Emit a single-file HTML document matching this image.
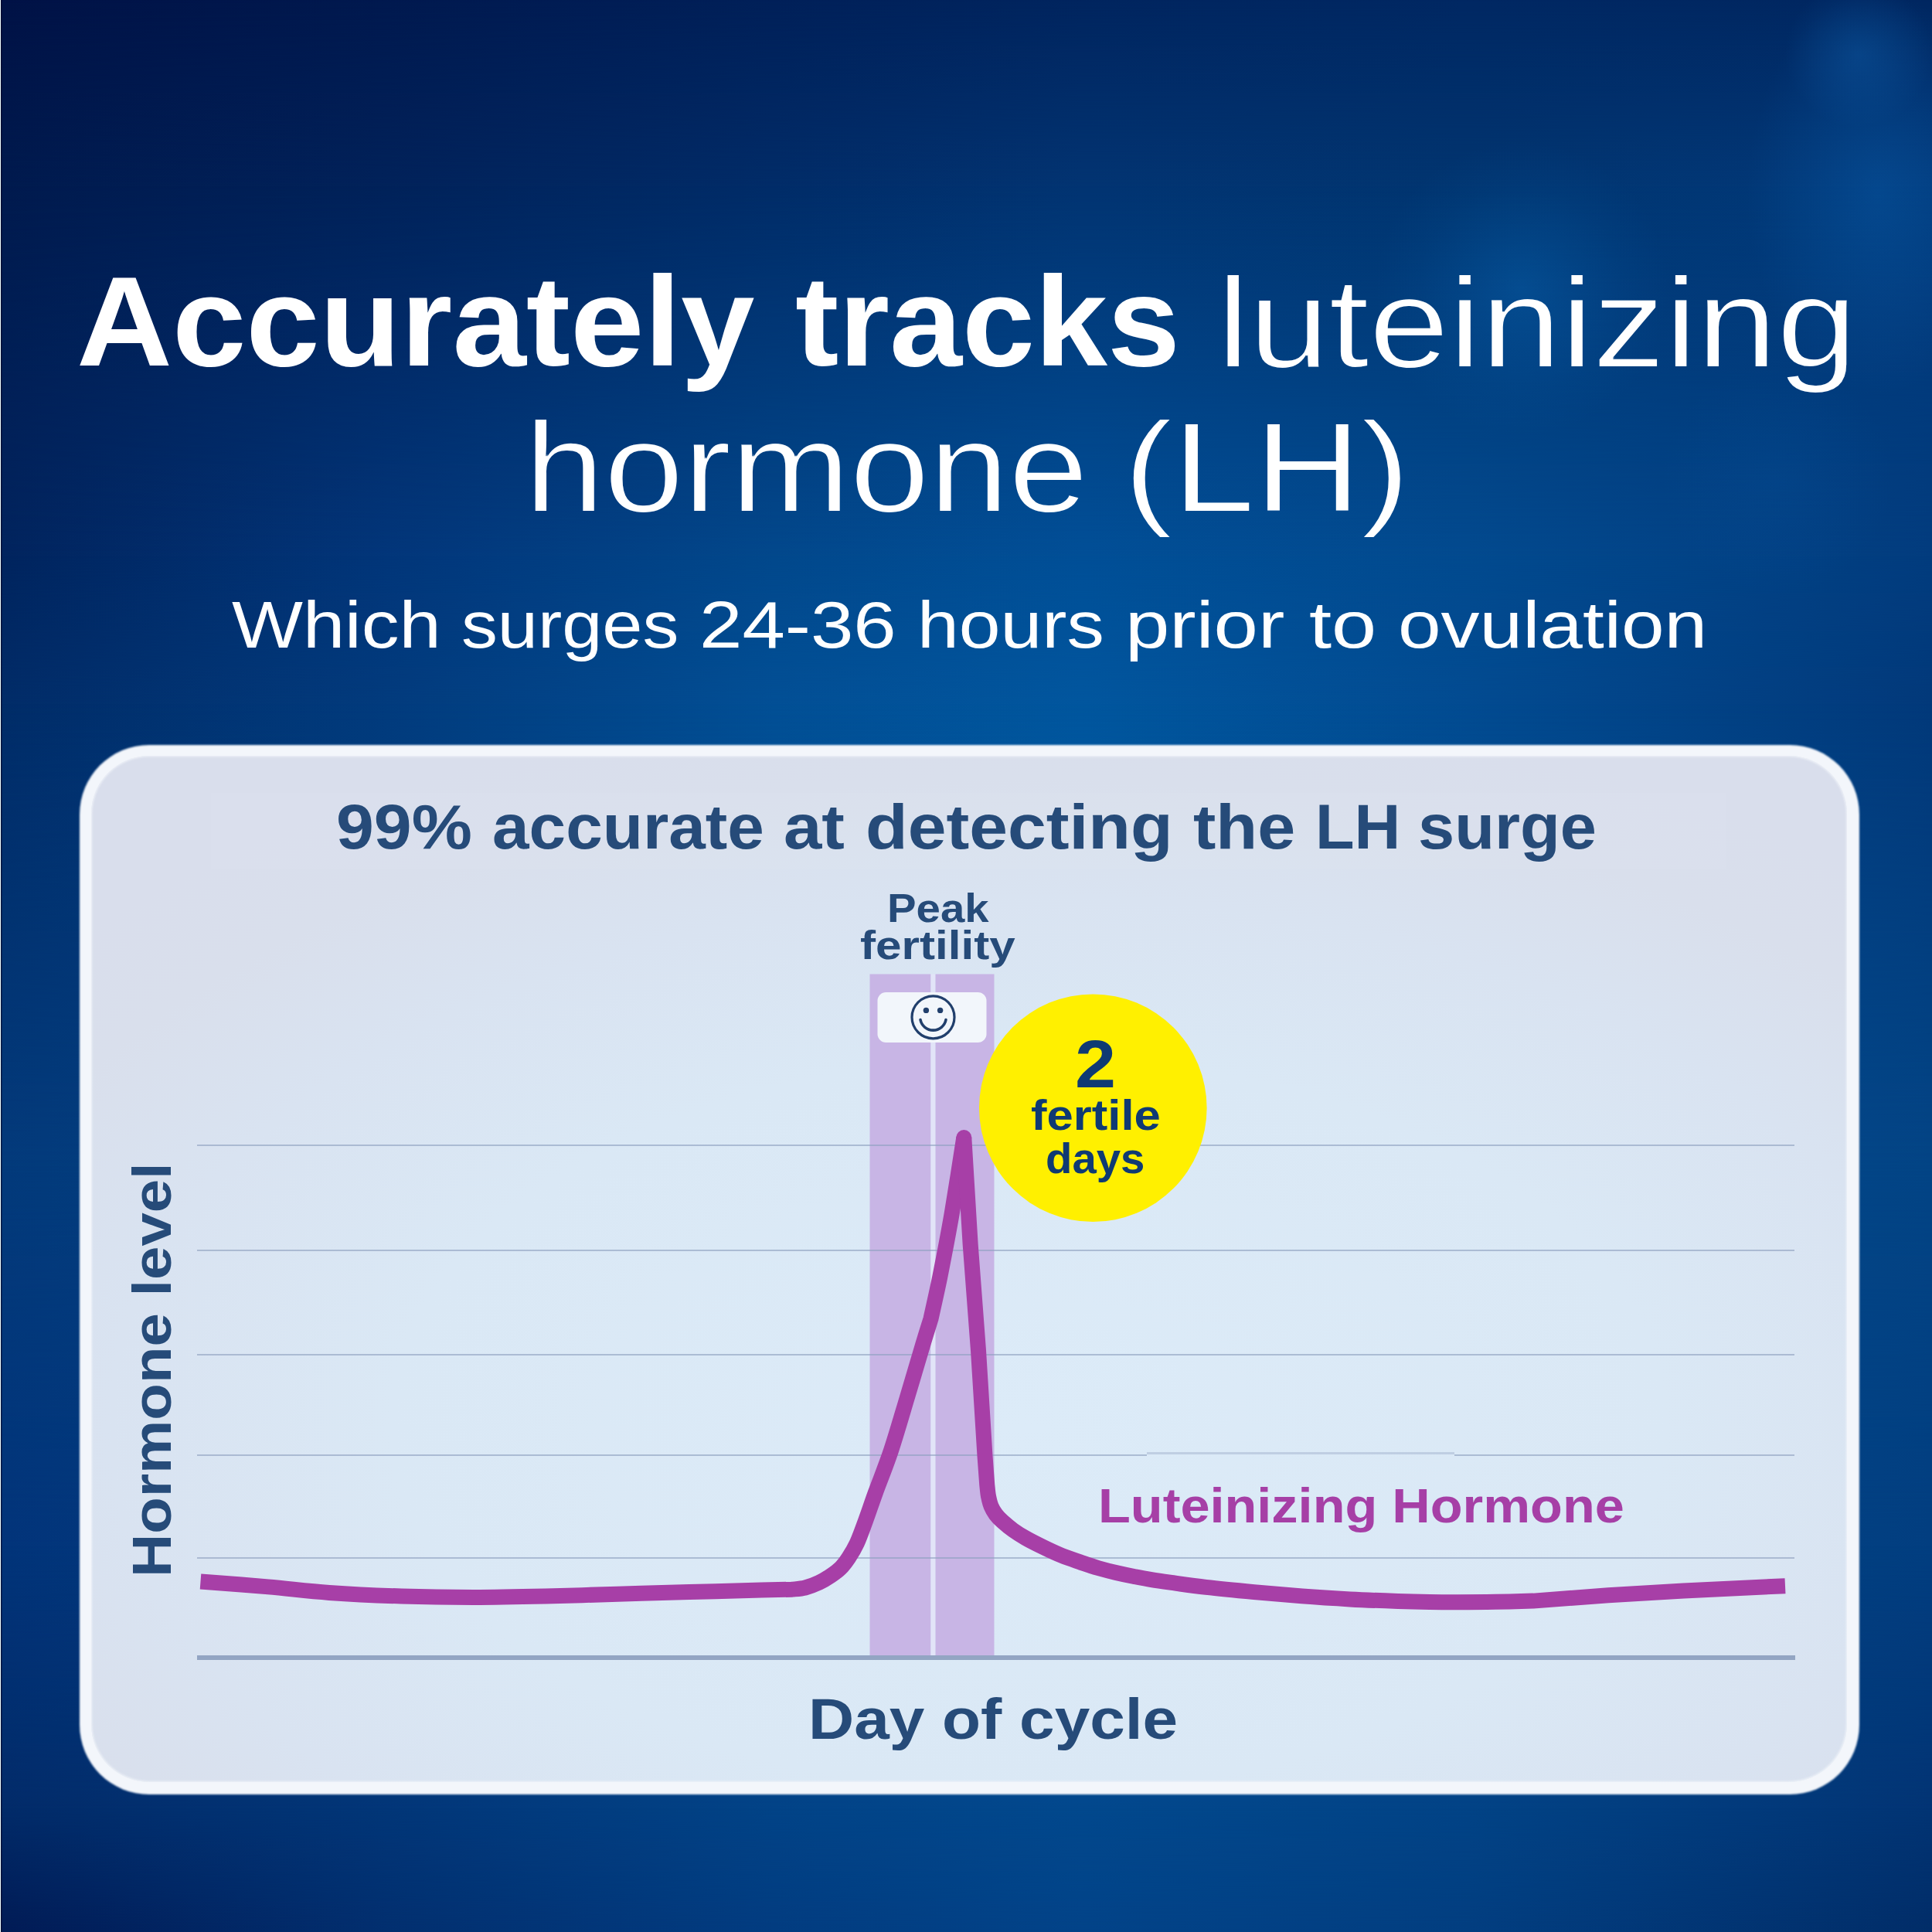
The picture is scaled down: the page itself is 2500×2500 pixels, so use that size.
<!DOCTYPE html>
<html lang="en">
<head>
<meta charset="utf-8">
<title>Accurately tracks luteinizing hormone (LH)</title>
<style>
html,body{margin:0;padding:0;}
body{width:2500px;height:2500px;overflow:hidden;position:relative;background:#01306f;font-family:"Liberation Sans",sans-serif;}
.bgl{position:absolute;left:0;top:0;width:2500px;height:2500px;}
#bokeh{position:absolute;left:0;top:0;width:2500px;height:2500px;background:
  radial-gradient(circle 190px at 1969px 373px, rgba(10,110,190,0.34), rgba(10,110,190,0.20) 35%, rgba(10,110,190,0.07) 70%, rgba(10,110,190,0) 100%),
  radial-gradient(ellipse 170px 260px at 2430px 250px, rgba(10,100,180,0.35), rgba(10,100,180,0) 100%),
  radial-gradient(circle 95px at 2405px 70px, rgba(20,110,190,0.30), rgba(20,110,190,0) 100%),
  radial-gradient(circle 150px at 2300px 620px, rgba(10,100,180,0.12), rgba(10,100,180,0) 100%);}
#edge{position:absolute;left:0;top:0;width:3px;height:2500px;background:linear-gradient(90deg,#f4ffff 0,#f4ffff 1px,rgba(0,8,40,0.75) 1px,rgba(0,8,40,0.55) 2px,rgba(0,8,40,0.15) 3px);}
#card{position:absolute;left:102.5px;top:963.5px;width:2303px;height:1358.7px;border-radius:90px;
 background:#f3f6fb;filter:blur(0.8px);}
#cardin{position:absolute;left:118px;top:978px;width:2271.5px;height:1328px;border-radius:75px;
 background:
  radial-gradient(ellipse 1650px 950px at 1212px 865px, #dcebf8 0%, #dae8f5 50%, #d9e3f1 72%, #d9dfec 88%, #d9deec 100%);box-shadow:inset 0 0 3px 1px rgba(243,246,251,0.9);}
#tbk{position:absolute;left:273px;top:1026px;width:1961px;height:99px;background:rgba(255,255,255,0.05);}
.t{position:absolute;white-space:pre;transform-origin:0 0;margin:0;padding:0;}
#chart{position:absolute;left:0;top:0;}
#t1b,#t2a,#t2b{filter:url(#thin);}
</style>
</head>
<body>
<div class="bgl" style="background:linear-gradient(90deg,#011246 0px,#01194f 500px,#012059 1000px,#01255f 1400px,#012863 1900px,#012761 2500px);"></div>
<div class="bgl" style="background:linear-gradient(90deg,#001a4e 0px,#01225a 500px,#012c68 1000px,#023472 1400px,#013570 1900px,#02397a 2500px);-webkit-mask-image:linear-gradient(180deg,rgba(0,0,0,0) 0px,#000 240px);mask-image:linear-gradient(180deg,rgba(0,0,0,0) 0px,#000 240px);"></div>
<div class="bgl" style="background:linear-gradient(90deg,#01245e 0px,#02367a 500px,#02488c 1000px,#014f97 1400px,#024a8f 1900px,#023c7e 2500px);-webkit-mask-image:linear-gradient(180deg,rgba(0,0,0,0) 240px,#000 720px);mask-image:linear-gradient(180deg,rgba(0,0,0,0) 240px,#000 720px);"></div>
<div class="bgl" style="background:linear-gradient(90deg,#012c68 0px,#023b7d 500px,#024f95 1000px,#01569e 1400px,#024b91 1900px,#02397a 2500px);-webkit-mask-image:linear-gradient(180deg,rgba(0,0,0,0) 720px,#000 910px);mask-image:linear-gradient(180deg,rgba(0,0,0,0) 720px,#000 910px);"></div>
<div class="bgl" style="background:linear-gradient(90deg,#033a7b 0px,#034384 500px,#024d92 1000px,#01559c 1400px,#034c90 1900px,#034485 2500px);-webkit-mask-image:linear-gradient(180deg,rgba(0,0,0,0) 910px,#000 1500px);mask-image:linear-gradient(180deg,rgba(0,0,0,0) 910px,#000 1500px);"></div>
<div class="bgl" style="background:linear-gradient(90deg,#02347a 0px,#033d80 500px,#02478b 1000px,#024e94 1400px,#024789 1900px,#023e80 2500px);-webkit-mask-image:linear-gradient(180deg,rgba(0,0,0,0) 1500px,#000 2000px);mask-image:linear-gradient(180deg,rgba(0,0,0,0) 1500px,#000 2000px);"></div>
<div class="bgl" style="background:linear-gradient(90deg,#022b69 0px,#023678 500px,#024387 1000px,#02488d 1400px,#024386 1900px,#023474 2500px);-webkit-mask-image:linear-gradient(180deg,rgba(0,0,0,0) 2000px,#000 2340px);mask-image:linear-gradient(180deg,rgba(0,0,0,0) 2000px,#000 2340px);"></div>
<div class="bgl" style="background:linear-gradient(90deg,#011b55 0px,#022f6f 500px,#023c80 1000px,#024388 1400px,#023e80 1900px,#012d68 2500px);-webkit-mask-image:linear-gradient(180deg,rgba(0,0,0,0) 2340px,#000 2500px);mask-image:linear-gradient(180deg,rgba(0,0,0,0) 2340px,#000 2500px);"></div>
<div id="bokeh"></div>
<div id="edge"></div>
<div id="card"></div>
<div id="cardin"></div>
<div id="tbk"></div>
<svg id="chart" width="2500" height="2500" viewBox="0 0 2500 2500">
  <defs><filter id="thin" x="-2%" y="-10%" width="104%" height="120%"><feMorphology operator="erode" radius="1"/></filter></defs>
  <!-- fertile bands -->
  <rect x="1125.5" y="1260.5" width="79" height="884.5" fill="#c8b5e5"/>
  <rect x="1204.5" y="1260.5" width="6" height="884.5" fill="#e2e4f8"/>
  <rect x="1210.5" y="1260.5" width="76" height="884.5" fill="#c8b5e5"/>
  <!-- grid lines -->
  <g stroke="#8fa1c0" stroke-width="1.8" opacity="0.62">
    <line x1="255" y1="1482" x2="2322" y2="1482"/>
    <line x1="255" y1="1618" x2="2322" y2="1618"/>
    <line x1="255" y1="1753" x2="2322" y2="1753"/>
    <line x1="255" y1="1883" x2="1484" y2="1883"/>
    <line x1="1484" y1="1880.5" x2="1882" y2="1880.5" stroke-width="3" opacity="0.6"/>
    <line x1="1882" y1="1883" x2="2322" y2="1883"/>
    <line x1="255" y1="2016" x2="2322" y2="2016"/>
  </g>
  <rect x="255" y="2142" width="2068" height="6" fill="#93a5c3"/>
  <!-- pill -->
  <rect x="1135.5" y="1284" width="141" height="65" rx="11" ry="11" fill="#f2f6fb"/>
  <g fill="none" stroke="#213f6c" stroke-width="3.2" stroke-linecap="round">
    <circle cx="1207.5" cy="1316.3" r="27.5"/>
    <path d="M 1191 1319.5 A 16.8 16.8 0 0 0 1224 1319.5" stroke-width="3.6"/>
  </g>
  <circle cx="1198.4" cy="1307.4" r="3.7" fill="#213f6c"/>
  <circle cx="1216.6" cy="1307.4" r="3.7" fill="#213f6c"/>
  <!-- LH curve -->
  <path id="curve" fill="none" stroke="#a73fa7" stroke-width="20" stroke-linejoin="round" stroke-linecap="butt"
   d="M 259.5 2046.5 C 274.1 2047.7 319.2 2051.0 347.0 2053.4 C 374.8 2055.8 397.2 2058.9 426.0 2060.9 C 454.8 2062.9 488.4 2064.5 519.5 2065.5 C 550.6 2066.5 581.7 2066.9 612.7 2066.9 C 643.8 2066.9 674.8 2066.2 705.8 2065.5 C 736.8 2064.8 768.0 2063.6 799.0 2062.7 C 830.0 2061.8 861.0 2060.8 892.0 2060.0 C 923.0 2059.2 963.1 2058.2 985.3 2057.6 C 1007.5 2057.0 1018.4 2056.8 1025.0 2056.7 C 1027.8 2056.3 1036.2 2056.0 1042.0 2054.5 C 1047.8 2053.0 1054.5 2050.4 1060.0 2047.8 C 1065.5 2045.2 1070.4 2042.1 1075.0 2039.0 C 1079.6 2035.9 1084.0 2032.8 1087.8 2029.0 C 1091.6 2025.2 1094.5 2021.3 1098.0 2016.0 C 1101.5 2010.7 1105.1 2005.0 1108.8 1997.0 C 1112.5 1989.0 1116.0 1978.8 1120.0 1968.0 C 1124.0 1957.2 1127.2 1947.2 1132.7 1932.0 C 1138.2 1916.8 1146.2 1897.5 1153.0 1877.0 C 1159.8 1856.5 1166.9 1831.7 1173.7 1809.0 C 1180.5 1786.3 1188.9 1757.7 1194.0 1740.6 C 1199.1 1723.5 1202.8 1712.2 1204.5 1706.5 C 1205.7 1701.0 1213.7 1665.5 1216.4 1651.8 C 1219.1 1638.1 1228.7 1587.8 1231.8 1569.8 C 1234.9 1551.8 1245.8 1481.8 1247.3 1472.0"/>
  <path id="curve2" fill="none" stroke="#a73fa7" stroke-width="20" stroke-linejoin="round" stroke-linecap="round"
   d="M 1247.3 1472 L 1247.31 1472"/>
  <path id="curve3" fill="none" stroke="#a73fa7" stroke-width="20" stroke-linejoin="round" stroke-linecap="butt"
   d="M 1247.3 1472 L 1255.7 1610.8 L 1266.0 1747.5 L 1274.5 1884.0 L 1277.3 1922.0 C 1277.6 1924.3 1278.1 1931.5 1279.0 1936.0 C 1279.9 1940.5 1280.9 1945.1 1282.5 1949.0 C 1284.1 1952.9 1286.1 1956.2 1288.5 1959.5 C 1290.9 1962.8 1293.2 1965.1 1297.0 1968.5 C 1300.8 1971.9 1305.9 1976.3 1311.0 1980.0 C 1316.1 1983.7 1321.1 1986.8 1327.6 1990.5 C 1334.1 1994.2 1342.2 1998.2 1350.0 2002.0 C 1357.8 2005.8 1366.2 2009.8 1374.2 2013.0 C 1382.2 2016.2 1390.2 2018.8 1398.0 2021.5 C 1405.8 2024.2 1413.1 2026.8 1420.8 2029.0 C 1428.5 2031.2 1436.2 2033.2 1444.0 2035.0 C 1451.8 2036.8 1459.7 2038.5 1467.4 2040.0 C 1475.1 2041.5 1482.2 2042.9 1490.0 2044.2 C 1497.8 2045.5 1502.2 2046.1 1514.0 2047.7 C 1525.8 2049.3 1542.5 2051.8 1560.6 2053.9 C 1578.7 2056.0 1602.0 2058.2 1622.7 2060.1 C 1643.4 2062.0 1664.1 2063.8 1684.8 2065.4 C 1705.5 2067.0 1726.2 2068.3 1746.9 2069.4 C 1767.6 2070.5 1791.8 2071.4 1809.0 2072.0 C 1826.2 2072.6 1837.1 2072.8 1850.0 2073.0 C 1862.9 2073.2 1872.4 2073.2 1886.6 2073.2 C 1900.8 2073.2 1918.8 2073.1 1935.0 2072.8 C 1951.2 2072.5 1975.8 2071.8 1983.9 2071.6 L 2081.2 2064.3 L 2178.5 2058.5 L 2310.0 2052.2"/>
  <!-- yellow circle -->
  <circle cx="1414.3" cy="1433.7" r="147.3" fill="#fff000"/>
</svg>
<div class="t" id="t1a" style="left:99.24px;top:334.49px;font-size:165px;line-height:165px;height:165px;font-weight:bold;color:#ffffff;transform:scaleX(1.0400);">Accurately</div>
<div class="t" id="t1a2" style="left:1029.25px;top:334.49px;font-size:165px;line-height:165px;height:165px;font-weight:bold;color:#ffffff;transform:scaleX(1.0243);">tracks</div>
<div class="t" id="t1b" style="left:1575.11px;top:335.69px;font-size:165px;line-height:165px;height:165px;font-weight:normal;color:#ffffff;transform:scaleX(1.1281);">luteinizing</div>
<div class="t" id="t2a" style="left:679.17px;top:523.49px;font-size:165px;line-height:165px;height:165px;font-weight:normal;color:#ffffff;transform:scaleX(1.1194);">hormone</div>
<div class="t" id="t2b" style="left:1453.89px;top:523.49px;font-size:165px;line-height:165px;height:165px;font-weight:normal;color:#ffffff;transform:scaleX(1.1551);">(LH)</div>
<div class="t" id="t3_0" style="left:299.78px;top:764.98px;font-size:86px;line-height:86px;height:86px;font-weight:normal;color:#ffffff;transform:scaleX(1.1327);">Which</div>
<div class="t" id="t3_1" style="left:597.27px;top:764.98px;font-size:86px;line-height:86px;height:86px;font-weight:normal;color:#ffffff;transform:scaleX(1.0900);">surges</div>
<div class="t" id="t3_2" style="left:904.53px;top:764.98px;font-size:86px;line-height:86px;height:86px;font-weight:normal;color:#ffffff;transform:scaleX(1.1583);">24-36</div>
<div class="t" id="t3_3" style="left:1187.39px;top:764.98px;font-size:86px;line-height:86px;height:86px;font-weight:normal;color:#ffffff;transform:scaleX(1.1245);">hours</div>
<div class="t" id="t3_4" style="left:1456.39px;top:764.98px;font-size:86px;line-height:86px;height:86px;font-weight:normal;color:#ffffff;transform:scaleX(1.1993);">prior</div>
<div class="t" id="t3_5" style="left:1693.84px;top:764.98px;font-size:86px;line-height:86px;height:86px;font-weight:normal;color:#ffffff;transform:scaleX(1.2157);">to</div>
<div class="t" id="t3_6" style="left:1808.75px;top:764.98px;font-size:86px;line-height:86px;height:86px;font-weight:normal;color:#ffffff;transform:scaleX(1.1622);">ovulation</div>
<div class="t" id="c1_0" style="left:435.33px;top:1029.37px;font-size:82px;line-height:82px;height:82px;font-weight:bold;color:#264b79;transform:scaleX(1.0714);">99%</div>
<div class="t" id="c1_1" style="left:636.61px;top:1029.37px;font-size:82px;line-height:82px;height:82px;font-weight:bold;color:#264b79;transform:scaleX(1.0431);">accurate</div>
<div class="t" id="c1_2" style="left:1013.73px;top:1029.37px;font-size:82px;line-height:82px;height:82px;font-weight:bold;color:#264b79;transform:scaleX(1.0826);">at</div>
<div class="t" id="c1_3" style="left:1119.86px;top:1029.37px;font-size:82px;line-height:82px;height:82px;font-weight:bold;color:#264b79;transform:scaleX(1.0910);">detecting</div>
<div class="t" id="c1_4" style="left:1543.98px;top:1029.37px;font-size:82px;line-height:82px;height:82px;font-weight:bold;color:#264b79;transform:scaleX(1.0744);">the</div>
<div class="t" id="c1_5" style="left:1702.24px;top:1029.37px;font-size:82px;line-height:82px;height:82px;font-weight:bold;color:#264b79;transform:scaleX(1.0093);">LH</div>
<div class="t" id="c1_6" style="left:1835.05px;top:1029.37px;font-size:82px;line-height:82px;height:82px;font-weight:bold;color:#264b79;transform:scaleX(1.0344);">surge</div>
<div class="t" id="pk1" style="left:1147.71px;top:1149.37px;font-size:52px;line-height:52px;height:52px;font-weight:bold;color:#264b79;transform:scaleX(1.0830);">Peak</div>
<div class="t" id="pk2" style="left:1112.72px;top:1197.47px;font-size:52px;line-height:52px;height:52px;font-weight:bold;color:#264b79;transform:scaleX(1.1573);">fertility</div>
<div class="t" id="y1" style="left:1391.08px;top:1333.24px;font-size:87px;line-height:87px;height:87px;font-weight:bold;color:#0f3a73;transform:scaleX(1.0955);">2</div>
<div class="t" id="y2" style="left:1333.93px;top:1415.28px;font-size:56px;line-height:56px;height:56px;font-weight:bold;color:#0f3a73;transform:scaleX(1.1002);">fertile</div>
<div class="t" id="y3" style="left:1352.88px;top:1471.08px;font-size:56px;line-height:56px;height:56px;font-weight:bold;color:#0f3a73;transform:scaleX(1.0056);">days</div>
<div class="t" id="lh" style="left:1421.07px;top:1917.26px;font-size:63px;line-height:63px;height:63px;font-weight:bold;color:#a63fa6;transform:scaleX(1.0867);">Luteinizing Hormone</div>
<div class="t" id="dc" style="left:1045.94px;top:2188.14px;font-size:74px;line-height:74px;height:74px;font-weight:bold;color:#264b79;transform:scaleX(1.1070);">Day of cycle</div>
<div class="t" id="hl" style="left:221.00px;top:2041.20px;font-size:71px;line-height:71px;height:71px;font-weight:bold;color:#264b79;transform-origin:0 0;transform:rotate(-90deg) scaleX(1.0969) translateY(-60.12px);">Hormone level</div>
</body>
</html>
